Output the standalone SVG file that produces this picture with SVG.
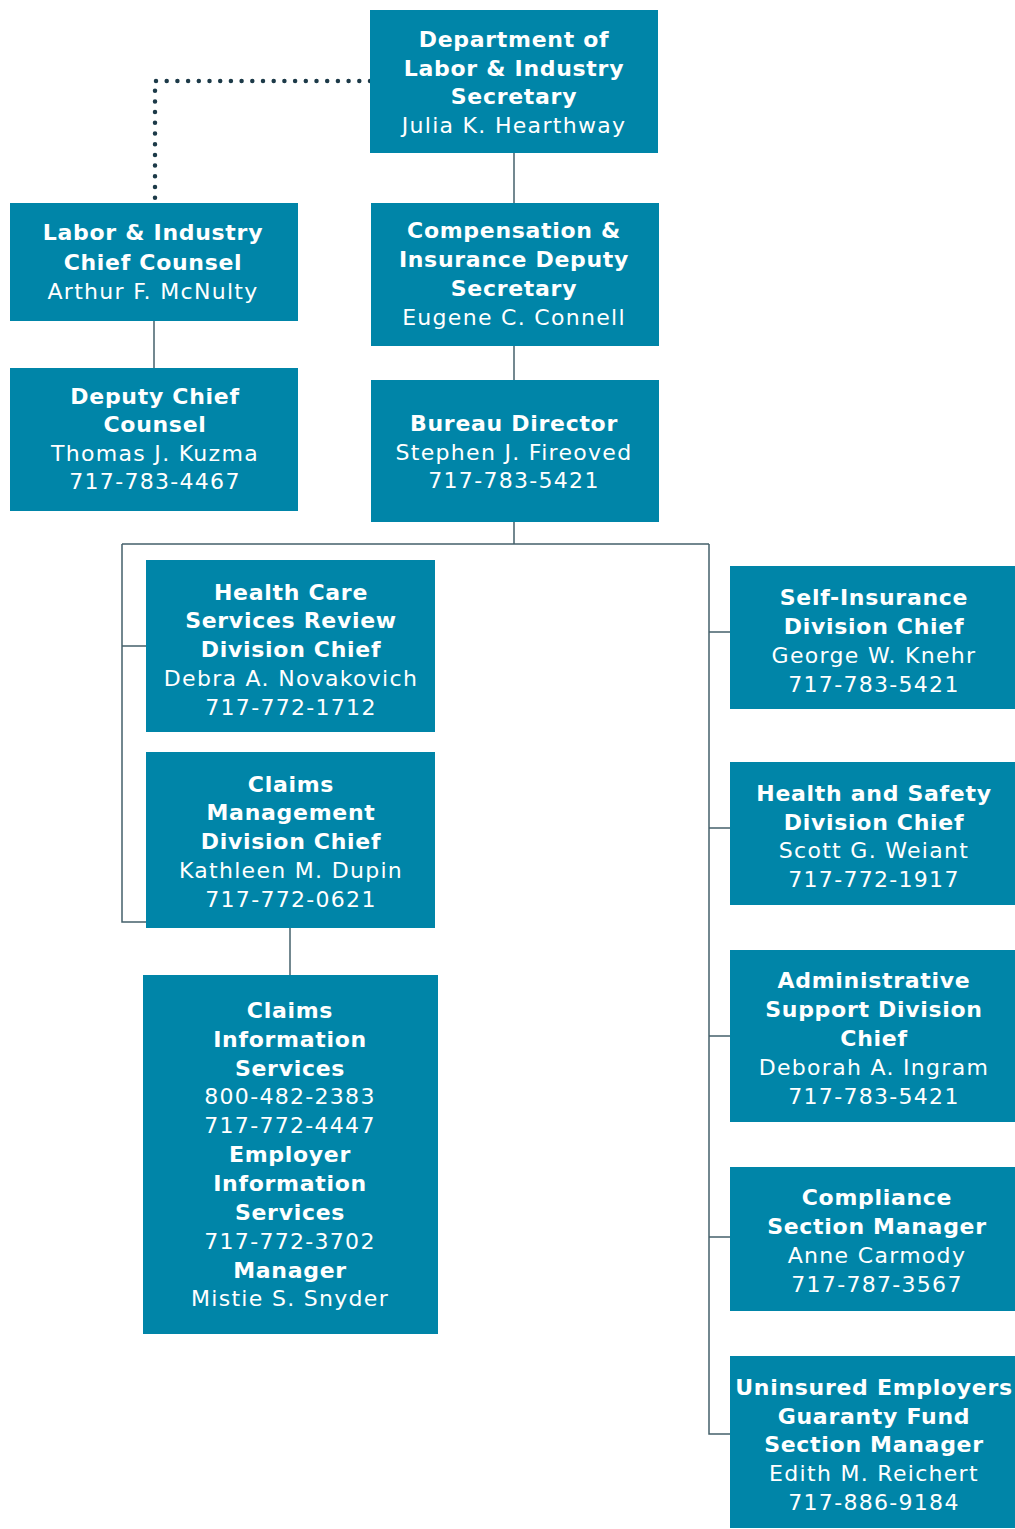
<svg xmlns="http://www.w3.org/2000/svg" width="1015" height="1529" viewBox="0 0 1015 1529">
<style>
.box{fill:#0085A8}
text{font-family:"DejaVu Sans","Verdana",sans-serif;font-size:22px;fill:#fff;text-anchor:middle}
.b{font-weight:bold;letter-spacing:0.7px}
.r{letter-spacing:1.3px}
.ln{stroke:#44606b;stroke-width:1.5;fill:none}
.dot{stroke:#1c3a48;stroke-width:4.5;stroke-linecap:round;stroke-dasharray:0 10.7;fill:none}
</style>
<rect width="1015" height="1529" fill="#fff"/>
<g id="connectors">
<path class="dot" d="M370 81 H155 V203"/>
<path class="ln" d="M514 153 V203"/>
<path class="ln" d="M154 321 V368"/>
<path class="ln" d="M514 346 V380"/>
<path class="ln" d="M514 522 V544 M122 544 H709"/>
<path class="ln" d="M122 544 V922 H146 M122 646 H146"/>
<path class="ln" d="M709 544 V1434 H730 M709 632 H730 M709 828 H730 M709 1036 H730 M709 1237 H730"/>
<path class="ln" d="M290 928 V975"/>
</g>
<g id="secretary">
<rect class="box" x="370" y="10" width="288" height="143"/>
<text class="b" x="514" y="47">Department of</text>
<text class="b" x="514" y="76">Labor &amp; Industry</text>
<text class="b" x="514" y="104">Secretary</text>
<text class="r" x="514" y="133">Julia K. Hearthway</text>
</g>
<g id="chief-counsel">
<rect class="box" x="10" y="203" width="288" height="118"/>
<text class="b" x="153" y="240">Labor &amp; Industry</text>
<text class="b" x="153" y="270">Chief Counsel</text>
<text class="r" x="153" y="299">Arthur F. McNulty</text>
</g>
<g id="deputy-chief-counsel">
<rect class="box" x="10" y="368" width="288" height="143"/>
<text class="b" x="155" y="404">Deputy Chief</text>
<text class="b" x="155" y="432">Counsel</text>
<text class="r" x="155" y="461">Thomas J. Kuzma</text>
<text class="r" x="155" y="489">717-783-4467</text>
</g>
<g id="deputy-secretary">
<rect class="box" x="371" y="203" width="288" height="143"/>
<text class="b" x="514" y="238">Compensation &amp;</text>
<text class="b" x="514" y="267">Insurance Deputy</text>
<text class="b" x="514" y="296">Secretary</text>
<text class="r" x="514" y="325">Eugene C. Connell</text>
</g>
<g id="bureau-director">
<rect class="box" x="371" y="380" width="288" height="142"/>
<text class="b" x="514" y="431">Bureau Director</text>
<text class="r" x="514" y="460">Stephen J. Fireoved</text>
<text class="r" x="514" y="488">717-783-5421</text>
</g>
<g id="health-care">
<rect class="box" x="146" y="560" width="289" height="172"/>
<text class="b" x="291" y="600">Health Care</text>
<text class="b" x="291" y="628">Services Review</text>
<text class="b" x="291" y="657">Division Chief</text>
<text class="r" x="291" y="686">Debra A. Novakovich</text>
<text class="r" x="291" y="715">717-772-1712</text>
</g>
<g id="claims-management">
<rect class="box" x="146" y="752" width="289" height="176"/>
<text class="b" x="291" y="792">Claims</text>
<text class="b" x="291" y="820">Management</text>
<text class="b" x="291" y="849">Division Chief</text>
<text class="r" x="291" y="878">Kathleen M. Dupin</text>
<text class="r" x="291" y="907">717-772-0621</text>
</g>
<g id="claims-information">
<rect class="box" x="143" y="975" width="295" height="359"/>
<text class="b" x="290" y="1018">Claims</text>
<text class="b" x="290" y="1047">Information</text>
<text class="b" x="290" y="1076">Services</text>
<text class="r" x="290" y="1104">800-482-2383</text>
<text class="r" x="290" y="1133">717-772-4447</text>
<text class="b" x="290" y="1162">Employer</text>
<text class="b" x="290" y="1191">Information</text>
<text class="b" x="290" y="1220">Services</text>
<text class="r" x="290" y="1249">717-772-3702</text>
<text class="b" x="290" y="1278">Manager</text>
<text class="r" x="290" y="1306">Mistie S. Snyder</text>
</g>
<g id="self-insurance">
<rect class="box" x="730" y="566" width="285" height="143"/>
<text class="b" x="874" y="605">Self-Insurance</text>
<text class="b" x="874" y="634">Division Chief</text>
<text class="r" x="874" y="663">George W. Knehr</text>
<text class="r" x="874" y="692">717-783-5421</text>
</g>
<g id="health-safety">
<rect class="box" x="730" y="762" width="285" height="143"/>
<text class="b" x="874" y="801">Health and Safety</text>
<text class="b" x="874" y="830">Division Chief</text>
<text class="r" x="874" y="858">Scott G. Weiant</text>
<text class="r" x="874" y="887">717-772-1917</text>
</g>
<g id="administrative-support">
<rect class="box" x="730" y="950" width="285" height="172"/>
<text class="b" x="874" y="988">Administrative</text>
<text class="b" x="874" y="1017">Support Division</text>
<text class="b" x="874" y="1046">Chief</text>
<text class="r" x="874" y="1075">Deborah A. Ingram</text>
<text class="r" x="874" y="1104">717-783-5421</text>
</g>
<g id="compliance">
<rect class="box" x="730" y="1167" width="285" height="144"/>
<text class="b" x="877" y="1205">Compliance</text>
<text class="b" x="877" y="1234">Section Manager</text>
<text class="r" x="877" y="1263">Anne Carmody</text>
<text class="r" x="877" y="1292">717-787-3567</text>
</g>
<g id="uninsured-employers">
<rect class="box" x="730" y="1356" width="285" height="172"/>
<text class="b" x="874" y="1395">Uninsured Employers</text>
<text class="b" x="874" y="1424">Guaranty Fund</text>
<text class="b" x="874" y="1452">Section Manager</text>
<text class="r" x="874" y="1481">Edith M. Reichert</text>
<text class="r" x="874" y="1510">717-886-9184</text>
</g>
</svg>
